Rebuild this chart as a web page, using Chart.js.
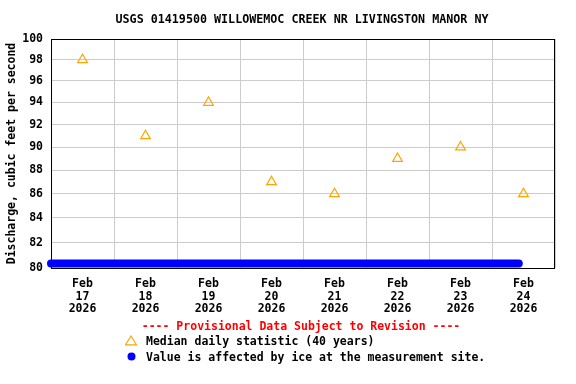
<!DOCTYPE html>
<html>
<head>
<meta charset="utf-8">
<script src="https://cdn.jsdelivr.net/npm/chart.js@4"></script>
<style>
  html, body { margin: 0; padding: 0; background: #fff; }
  #wrap { position: relative; width: 576px; height: 384px; overflow: hidden; }
  canvas { position: absolute; left: 0; top: 0; }
  .txt { position: absolute; font-family: "DejaVu Sans Mono", monospace; font-weight: bold; white-space: pre; line-height: 1; }
  #title { left: 0; width: 604px; top: 14px; text-align: center; font-size: 11.7px; color: #000; }
  #prov { left: 0; width: 602px; top: 321px; text-align: center; font-size: 11.5px; color: #ff0000; }
  .leg { left: 146px; font-size: 11.5px; color: #000; }
  .mark { position: absolute; }
</style>
</head>
<body>
<div id="wrap">
  <canvas id="c" width="576" height="384"></canvas>
  <div class="txt" id="title">USGS 01419500 WILLOWEMOC CREEK NR LIVINGSTON MANOR NY</div>
  <div class="txt" id="prov">---- Provisional Data Subject to Revision ----</div>
  <svg class="mark" style="left:125px;top:335px" width="13" height="11"><polygon points="6,1 11.5,9.8 0.5,9.8" fill="none" stroke="#FFA500" stroke-width="1.2"/></svg>
  <div class="txt leg" style="top:336px">Median daily statistic (40 years)</div>
  <svg class="mark" style="left:127px;top:352px" width="9" height="9"><circle cx="4.5" cy="4.5" r="4" fill="#0000FF"/></svg>
  <div class="txt leg" style="top:352px">Value is affected by ice at the measurement site.</div>
</div>
<script>
// Hours since Feb 17 2026 00:00
const tickHours = [12, 36, 60, 84, 108, 132, 156, 180];
const tickLabels = [
  ["Feb", "17", "2026"], ["Feb", "18", "2026"], ["Feb", "19", "2026"], ["Feb", "20", "2026"],
  ["Feb", "21", "2026"], ["Feb", "22", "2026"], ["Feb", "23", "2026"], ["Feb", "24", "2026"]
];
const yTicks = [80, 82, 84, 86, 88, 90, 92, 94, 96, 98, 100];

const medianHours = [12, 36, 60, 84, 108, 132, 156, 180];
const medianValues = [98, 91, 94, 87, 86, 89, 90, 86];

const iceHours = [0, 178.2];
const iceValues = [80.35, 80.35];

const FONT = "'DejaVu Sans Mono', monospace";

const borderPlugin = {
  id: 'plotBorder',
  beforeDatasetsDraw(chart) {
    const a = chart.chartArea;
    const ctx = chart.ctx;
    ctx.save();
    ctx.strokeStyle = '#000';
    ctx.lineWidth = 1;
    ctx.strokeRect(Math.round(a.left) + 0.5, Math.round(a.top) + 0.5,
                   Math.round(a.right - a.left) - 1, Math.round(a.bottom - a.top));
    ctx.restore();
  }
};

new Chart(document.getElementById('c'), {
  type: 'scatter',
  data: {
    datasets: [
      {
        label: 'Ice',
        data: iceHours.map((h, i) => ({ x: h, y: iceValues[i] })),
        showLine: true,
        borderColor: '#0000FF',
        backgroundColor: '#0000FF',
        borderWidth: 8,
        borderCapStyle: 'round',
        pointRadius: 0,
        clip: false,
        order: 1
      },
      {
        label: 'Median daily statistic (40 years)',
        data: medianHours.map((h, i) => ({ x: h, y: medianValues[i] })),
        showLine: false,
        pointStyle: 'triangle',
        pointRadius: 5.6,
        pointBorderWidth: 1.2,
        borderColor: '#FFA500',
        backgroundColor: 'rgba(255,255,255,0)',
        order: 0
      }
    ]
  },
  options: {
    responsive: false,
    animation: false,
    events: [],
    layout: { padding: { top: 39, right: 21, bottom: 66, left: 0 } },
    plugins: { legend: { display: false }, tooltip: { enabled: false }, title: { display: false } },
    scales: {
      x: {
        type: 'linear',
        min: 0,
        max: 192,
        afterBuildTicks(scale) { scale.ticks = tickHours.map(v => ({ value: v })); },
        afterFit(scale) { scale.height = 50; },
        border: { display: false },
        grid: { color: '#cccccc', lineWidth: 1, offset: true, drawTicks: false },
        ticks: {
          autoSkip: false,
          maxRotation: 0,
          padding: 10,
          color: '#000',
          font: { family: FONT, weight: 'bold', size: 11.5, lineHeight: 1.09 },
          callback(value, index) { return tickLabels[index]; }
        }
      },
      y: {
        type: 'logarithmic',
        min: 80,
        max: 100,
        afterBuildTicks(scale) { scale.ticks = yTicks.map(v => ({ value: v })); },
        afterFit(scale) { scale.width = 51; },
        border: { display: false },
        grid: { color: '#cccccc', lineWidth: 1, drawTicks: false },
        ticks: {
          padding: 8,
          color: '#000',
          font: { family: FONT, weight: 'bold', size: 11.5 },
          callback(value) { return String(value); }
        },
        title: {
          display: true,
          text: 'Discharge, cubic feet per second',
          color: '#000',
          font: { family: FONT, weight: 'bold', size: 11.5 },
          padding: { top: 5, bottom: 2 }
        }
      }
    }
  },
  plugins: [borderPlugin]
});
</script>
</body>
</html>
